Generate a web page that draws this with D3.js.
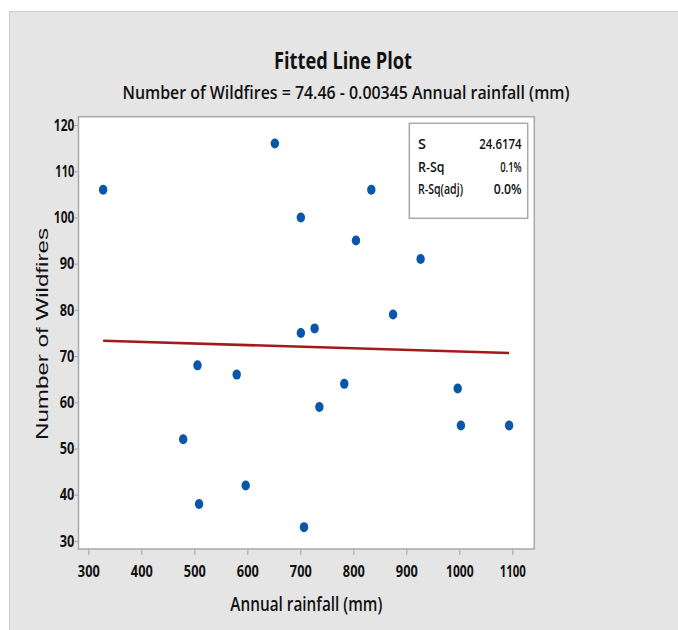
<!DOCTYPE html>
<html>
<head>
<meta charset="utf-8">
<script src="https://cdn.jsdelivr.net/npm/d3@7"></script>
<style>
    body { margin: 0; background: #fff; }
    svg { display: block; }
    text { fill: #111; }
</style>
</head>
<body>
<div id="chart"></div>
<script>
// values
const rainfall = [328, 652, 701, 805, 834, 927, 875, 701, 727, 506, 580, 783, 736, 997, 1003, 1094, 479, 597, 509, 707];
const wildfires = [106, 116, 100, 95, 106, 91, 79, 75, 76, 68, 66, 64, 59, 63, 55, 55, 52, 42, 38, 33];
const xTicks = [300, 400, 500, 600, 700, 800, 900, 1000, 1100];
const yTicks = [30, 40, 50, 60, 70, 80, 90, 100, 110, 120];
const fitIntercept = 74.46;
const fitSlope = -0.00345;
const statLabels = ['S', 'R-Sq', 'R-Sq(adj)'];
const statValues = ['24.6174', '0.1%', '0.0%'];

let width = 678, height = 630;
let font = "'Open Sans', 'Noto Sans', sans-serif";

let svg = d3.select('#chart').append('svg')
    .attr('width', width)
    .attr('height', height);

// grey panel behind everything
svg.append('rect')
    .attr('x', 9.5).attr('y', 11.5)
    .attr('width', width).attr('height', height)
    .attr('fill', '#e5e5e5')
    .attr('stroke', '#cdcdcd');

let plot = {left: 78.5, right: 534.3, top: 116.7, bottom: 549};

let x = d3.scaleLinear().domain([281.5, 1141.5]).range([plot.left, plot.right]);
let y = d3.scaleLinear().domain([28.27, 121.8]).range([plot.bottom, plot.top]);

// squeeze text to a target width, the original font is condensed
let squeeze = (sel, w) => {
    sel.attr('textLength', w).attr('lengthAdjust', 'spacingAndGlyphs');
};
let digitWidth = (t) => 7.3 * t.length - (t.split('1').length - 1) * 1.5;

svg.append('rect')
    .attr('x', plot.left).attr('y', plot.top)
    .attr('width', plot.right - plot.left)
    .attr('height', plot.bottom - plot.top)
    .attr('fill', '#fff')
    .attr('stroke', '#a9a9a9')
    .attr('stroke-width', 1.5);

// axes
let xAxis = svg.append('g')
    .attr('transform', 'translate(0,' + (plot.bottom + 0.75) + ')')
    .call(d3.axisBottom(x).tickValues(xTicks).tickSize(5).tickFormat(d3.format('d')));
let yAxis = svg.append('g')
    .attr('transform', 'translate(' + (plot.left - 0.75) + ',0)')
    .call(d3.axisLeft(y).tickValues(yTicks).tickSize(3).tickPadding(0.5).tickFormat(d3.format('d')));

[xAxis, yAxis].forEach((a) => {
    a.select('.domain').remove();
    a.selectAll('.tick line').attr('stroke', '#a9a9a9').attr('stroke-width', 1.2);
    a.selectAll('.tick text')
        .attr('fill', '#111')
        .style('font-family', font)
        .style('font-weight', 700)
        .style('font-size', '16px')
        .each(function(d) {
            squeeze(d3.select(this), digitWidth(String(d)));
        });
});
xAxis.selectAll('.tick text').attr('y', 27.5).attr('dy', 0);

// fitted line
let fitX = d3.extent(rainfall);
svg.append('path')
    .datum(fitX)
    .attr('fill', 'none')
    .attr('stroke', '#a11b1b')
    .attr('stroke-width', 2.6)
    .attr('d', d3.line()
        .x((d) => x(d))
        .y((d) => y(fitIntercept + fitSlope * d)));

// points
svg.append('g').selectAll('ellipse')
    .data(rainfall)
    .enter().append('ellipse')
    .attr('cx', (d) => x(d))
    .attr('cy', (d, i) => y(wildfires[i]))
    .attr('rx', 4.2)
    .attr('ry', 5)
    .attr('fill', '#0857a8');

// stats box
let box = svg.append('g');
box.append('rect')
    .attr('x', 409.3).attr('y', 123.3)
    .attr('width', 118.4).attr('height', 95)
    .attr('fill', '#fff')
    .attr('stroke', '#a9a9a9')
    .attr('stroke-width', 1.5);
let labelW = [8, 26.5, 45];
let valueW = [42.5, 21.5, 28];
statLabels.forEach((s, i) => {
    let by = 149.3 + i * 22.3;
    box.append('text')
        .attr('x', 418).attr('y', by)
        .style('font-family', font).style('font-weight', 600).style('font-size', '15px')
        .text(s)
        .call(squeeze, labelW[i]);
    box.append('text')
        .attr('x', 521.7).attr('y', by)
        .attr('text-anchor', 'end')
        .style('font-family', font).style('font-weight', 600).style('font-size', '15px')
        .text(statValues[i])
        .call(squeeze, valueW[i]);
});

// titles
svg.append('text')
    .attr('x', 343).attr('y', 69)
    .attr('text-anchor', 'middle')
    .style('font-family', font).style('font-weight', 700).style('font-size', '23px')
    .text('Fitted Line Plot')
    .call(squeeze, 138);
svg.append('text')
    .attr('x', 346).attr('y', 98.5)
    .attr('text-anchor', 'middle')
    .style('font-family', font).style('font-weight', 600).style('font-size', '18.5px')
    .text('Number of Wildfires = 74.46 - 0.00345 Annual rainfall (mm)')
    .call(squeeze, 447);

svg.append('text')
    .attr('x', 306.3).attr('y', 611)
    .attr('text-anchor', 'middle')
    .style('font-family', font).style('font-weight', 600).style('font-size', '19px')
    .text('Annual rainfall (mm)')
    .call(squeeze, 152);

svg.append('text')
    .attr('transform', 'translate(48.3,334) rotate(-90)')
    .attr('text-anchor', 'middle')
    .style('font-family', "'Liberation Sans', Arial, sans-serif").style('font-size', '17px')
    .text('Number of Wildfires')
    .call(squeeze, 212);
</script>
</body>
</html>
